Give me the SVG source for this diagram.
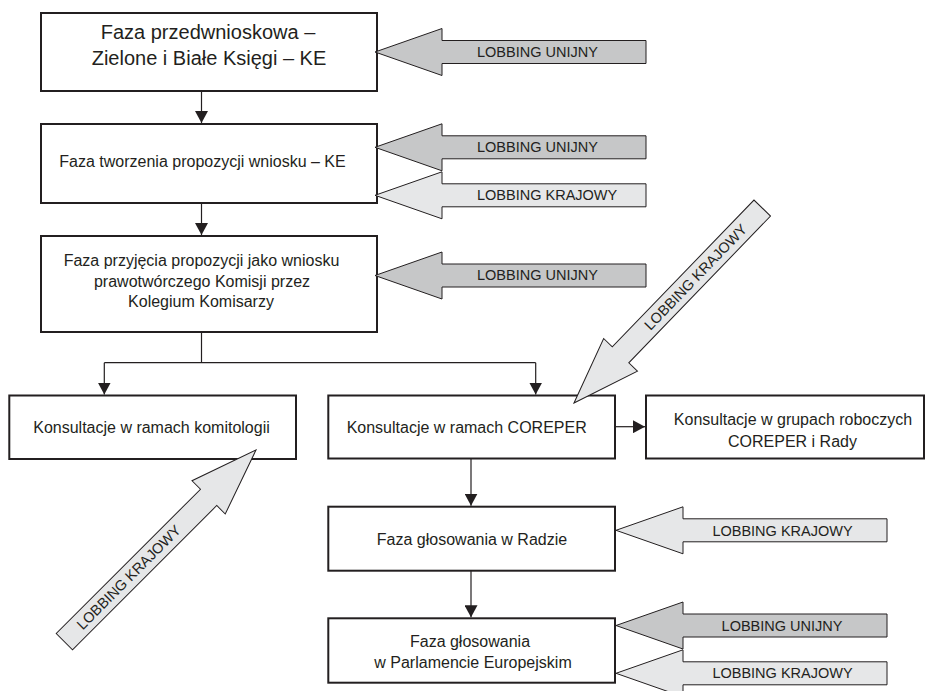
<svg xmlns="http://www.w3.org/2000/svg" xmlns:xlink="http://www.w3.org/1999/xlink" width="926" height="691" viewBox="0 0 926 691">
<style>
.box{fill:#fff;stroke:#231f20;stroke-width:2}
.t{font-family:"Liberation Sans",Arial,sans-serif;fill:#231f20;text-anchor:middle}
.t16{font-size:16px}
.t20{font-size:20px}
.lbl{font-family:"Liberation Sans",Arial,sans-serif;font-size:14.5px;fill:#231f20}
.mid{text-anchor:middle}
.unijny{fill:#c6c7c8;stroke:#231f20;stroke-width:1}
.krajowy{fill:#e6e7e8;stroke:#231f20;stroke-width:1}
.conn{fill:none;stroke:#231f20;stroke-width:1.2}
</style>
<defs>
<marker id="ah" markerUnits="userSpaceOnUse" markerWidth="13" markerHeight="13" refX="12" refY="6.5" orient="auto">
<path d="M0,0 L12,6.5 L0,13 Z" fill="#231f20"/>
</marker>
<path id="big" d="M0,0 L-67,-23.5 L-67,-11.5 L-271,-11.5 L-271,11.5 L-67,11.5 L-67,23.5 Z"/>
</defs>

<g id="n1"><rect class="box" x="41" y="13" width="336" height="78"/>
<text class="t t20" x="208" y="38.5">Faza przedwnioskowa –</text>
<text class="t t20" x="209" y="65">Zielone i Białe Księgi – KE</text></g>

<g id="n2"><rect class="box" x="41" y="124" width="336" height="79"/>
<text class="t t16" x="202.5" y="167">Faza tworzenia propozycji wniosku – KE</text></g>

<g id="n3"><rect class="box" x="41" y="236" width="336" height="96"/>
<text class="t t16" x="201.5" y="266">Faza przyjęcia propozycji jako wniosku</text>
<text class="t t16" x="202" y="286.5">prawotwórczego Komisji przez</text>
<text class="t t16" x="201" y="307">Kolegium Komisarzy</text></g>

<g id="n4"><rect class="box" x="9.3" y="395.5" width="286.7" height="63.5"/>
<text class="t t16" x="151.5" y="433">Konsultacje w ramach komitologii</text></g>

<g id="n5"><rect class="box" x="328.3" y="395.5" width="286.7" height="63"/>
<text class="t t16" x="466.7" y="433.3">Konsultacje w ramach COREPER</text></g>

<g id="n6"><rect class="box" x="646" y="395.5" width="278" height="63"/>
<text class="t t16" x="793" y="425">Konsultacje w grupach roboczych</text>
<text class="t t16" x="792.5" y="446.7">COREPER i Rady</text></g>

<g id="n7"><rect class="box" x="328.3" y="506.7" width="286.7" height="64"/>
<text class="t t16" x="472" y="545">Faza głosowania w Radzie</text></g>

<g id="n8"><rect class="box" x="328.3" y="618.3" width="286.7" height="64.4"/>
<text class="t t16" x="470" y="647">Faza głosowania</text>
<text class="t t16" x="473" y="668">w Parlamencie Europejskim</text></g>

<g id="connectors">
<path class="conn" d="M201.5,91 V123" marker-end="url(#ah)"/>
<path class="conn" d="M201.5,203 V235" marker-end="url(#ah)"/>
<path class="conn" d="M201.5,332 V362.7"/>
<path class="conn" d="M104.3,362.7 H535.7"/>
<path class="conn" d="M104.3,362.7 V394.5" marker-end="url(#ah)"/>
<path class="conn" d="M535.7,362.7 V394.5" marker-end="url(#ah)"/>
<path class="conn" d="M615,426.7 H645" marker-end="url(#ah)"/>
<path class="conn" d="M471,458.5 V505.7" marker-end="url(#ah)"/>
<path class="conn" d="M471,570.7 V617.3" marker-end="url(#ah)"/>
</g>

<g id="lob1"><use xlink:href="#big" class="unijny" transform="translate(375,52) rotate(180)"/>
<text class="lbl" x="477" y="56.7">LOBBING UNIJNY</text></g>
<g id="lob2"><use xlink:href="#big" class="unijny" transform="translate(375,147.3) rotate(180)"/>
<text class="lbl" x="477" y="152">LOBBING UNIJNY</text></g>
<g id="lob3"><use xlink:href="#big" class="krajowy" transform="translate(375,195.3) rotate(180)"/>
<text class="lbl" x="477" y="200">LOBBING KRAJOWY</text></g>
<g id="lob4"><use xlink:href="#big" class="unijny" transform="translate(375,275.5) rotate(180)"/>
<text class="lbl" x="477" y="280.2">LOBBING UNIJNY</text></g>

<g id="lob5"><use xlink:href="#big" class="krajowy" transform="translate(616,530.3) rotate(180)"/>
<text class="lbl mid" x="782.5" y="535.5">LOBBING KRAJOWY</text></g>
<g id="lob6"><use xlink:href="#big" class="unijny" transform="translate(616,625.5) rotate(180)"/>
<text class="lbl mid" x="782" y="630.7">LOBBING UNIJNY</text></g>
<g id="lob7"><use xlink:href="#big" class="krajowy" transform="translate(616,673.3) rotate(180)"/>
<text class="lbl mid" x="782.5" y="678.3">LOBBING KRAJOWY</text></g>

<g id="lob8"><use xlink:href="#big" class="krajowy" transform="translate(574,403) rotate(134)"/>
<text class="lbl mid" transform="translate(695.6,277.1) rotate(-46)" x="0" y="5">LOBBING KRAJOWY</text></g>

<g id="lob9" transform="translate(256,450) rotate(-45)"><use xlink:href="#big" class="krajowy"/>
<text class="lbl mid" x="-180" y="5">LOBBING KRAJOWY</text></g>
</svg>
